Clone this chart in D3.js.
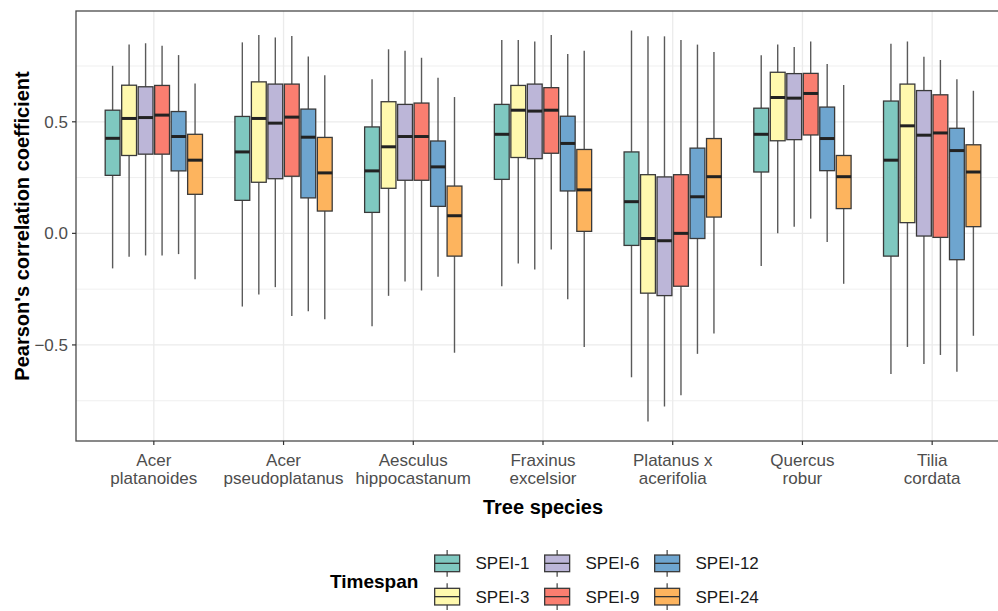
<!DOCTYPE html>
<html>
<head>
<meta charset="utf-8">
<script src="https://cdn.jsdelivr.net/npm/d3@7"></script>
<style>
    body { margin: 0; background: #fff; }
    svg { display: block; font-family: "Liberation Sans", Arial, sans-serif; }
    .tick-label { fill: #4d4d4d; font-size: 17px; }
    .axis-title { fill: #000; font-size: 20px; font-weight: bold; }
    .legend-label { fill: #1a1a1a; font-size: 17px; }
</style>
</head>
<body>
<div id="chart"></div>
<script>
// categories
const species = [
    ["Acer", "platanoides"],
    ["Acer", "pseudoplatanus"],
    ["Aesculus", "hippocastanum"],
    ["Fraxinus", "excelsior"],
    ["Platanus x", "acerifolia"],
    ["Quercus", "robur"],
    ["Tilia", "cordata"]
];
const timespans = ["SPEI-1", "SPEI-3", "SPEI-6", "SPEI-9", "SPEI-12", "SPEI-24"];
const spanColors = ["#7fc8c0", "#fff9ae", "#bcb6d8", "#fa7e70", "#6ea5cf", "#fdb45e"];

// box statistics, one row per species, one value per timespan
const whiskerLow = [
    [-0.157, -0.105, -0.099, -0.099, -0.093, -0.206],
    [-0.328, -0.274, -0.241, -0.370, -0.349, -0.385],
    [-0.416, -0.280, -0.216, -0.256, -0.195, -0.535],
    [-0.237, -0.135, -0.162, -0.072, -0.295, -0.509],
    [-0.645, -0.843, -0.776, -0.726, -0.540, -0.449],
    [-0.146, 0.001, 0.030, 0.066, -0.039, -0.226],
    [-0.630, -0.509, -0.585, -0.545, -0.620, -0.459]
];
const q1 = [
    [0.260, 0.349, 0.355, 0.355, 0.280, 0.175],
    [0.148, 0.229, 0.245, 0.256, 0.159, 0.100],
    [0.094, 0.202, 0.238, 0.238, 0.121, -0.102],
    [0.242, 0.340, 0.335, 0.359, 0.190, 0.009],
    [-0.054, -0.268, -0.279, -0.237, -0.023, 0.073],
    [0.275, 0.415, 0.420, 0.441, 0.281, 0.111],
    [-0.102, 0.048, -0.012, -0.018, -0.118, 0.030]
];
const medians = [
    [0.426, 0.515, 0.519, 0.530, 0.434, 0.328],
    [0.365, 0.515, 0.494, 0.521, 0.431, 0.271],
    [0.280, 0.388, 0.434, 0.434, 0.298, 0.079],
    [0.444, 0.552, 0.548, 0.552, 0.403, 0.195],
    [0.142, -0.023, -0.033, 0.000, 0.164, 0.254],
    [0.444, 0.609, 0.606, 0.627, 0.425, 0.254],
    [0.328, 0.482, 0.440, 0.450, 0.371, 0.275]
];
const q3 = [
    [0.552, 0.664, 0.657, 0.663, 0.546, 0.444],
    [0.524, 0.679, 0.669, 0.669, 0.557, 0.430],
    [0.477, 0.590, 0.578, 0.584, 0.414, 0.212],
    [0.578, 0.663, 0.669, 0.653, 0.525, 0.376],
    [0.365, 0.263, 0.253, 0.263, 0.382, 0.425],
    [0.561, 0.722, 0.716, 0.717, 0.566, 0.349],
    [0.593, 0.669, 0.640, 0.621, 0.471, 0.397]
];
const whiskerHigh = [
    [0.751, 0.846, 0.852, 0.841, 0.799, 0.672],
    [0.856, 0.889, 0.878, 0.885, 0.793, 0.709],
    [0.691, 0.825, 0.819, 0.787, 0.697, 0.611],
    [0.867, 0.867, 0.860, 0.889, 0.804, 0.819],
    [0.909, 0.883, 0.883, 0.867, 0.846, 0.813],
    [0.798, 0.846, 0.835, 0.860, 0.759, 0.665],
    [0.850, 0.860, 0.792, 0.777, 0.691, 0.639]
];
const yTicks = [-0.5, 0, 0.5];
const yMinorTicks = [-0.75, -0.25, 0.25, 0.75];

const config = {
    width: 998,
    height: 611,
    margin: {top: 11, left: 76, bottomY: 441, right: 1010},
    boxStroke: "#3a3a3a",
    whiskerStroke: "#5a5a5a",
    gridColor: "#ebebeb"
};

// flatten into one record per box
const boxes = [];
species.forEach((sp, i) => {
    timespans.forEach((span, j) => {
        boxes.push({
            species: sp.join(" "),
            span: span,
            low: whiskerLow[i][j],
            q1: q1[i][j],
            median: medians[i][j],
            q3: q3[i][j],
            high: whiskerHigh[i][j]
        });
    });
});

const svg = d3.select("#chart").append("svg")
    .attr("width", config.width)
    .attr("height", config.height);

svg.append("rect")
    .attr("width", config.width)
    .attr("height", config.height)
    .attr("fill", "#fff");

// scales (ggplot style: 0.6 step padding on discrete, 5% expansion on continuous)
const xScale = d3.scalePoint()
    .domain(species.map(d => d.join(" ")))
    .range([config.margin.left, config.margin.right])
    .padding(0.6);
const step = xScale.step();

const xInner = d3.scaleBand()
    .domain(timespans)
    .range([-0.375 * step, 0.375 * step])
    .paddingInner(0.1);

const yMin = d3.min(boxes, d => d.low);
const yMax = d3.max(boxes, d => d.high);
const expand = (yMax - yMin) * 0.05;
const yScale = d3.scaleLinear()
    .domain([yMin - expand, yMax + expand])
    .range([config.margin.bottomY, config.margin.top]);

const colorScale = d3.scaleOrdinal().domain(timespans).range(spanColors);

// grid
const grid = svg.append("g");
grid.selectAll(".minor")
    .data(yMinorTicks)
    .join("line")
    .attr("x1", config.margin.left).attr("x2", config.margin.right)
    .attr("y1", d => yScale(d)).attr("y2", d => yScale(d))
    .attr("stroke", config.gridColor).attr("stroke-width", 0.8);
grid.selectAll(".major-y")
    .data(yTicks)
    .join("line")
    .attr("x1", config.margin.left).attr("x2", config.margin.right)
    .attr("y1", d => yScale(d)).attr("y2", d => yScale(d))
    .attr("stroke", config.gridColor).attr("stroke-width", 1.3);
grid.selectAll(".major-x")
    .data(xScale.domain())
    .join("line")
    .attr("x1", d => xScale(d)).attr("x2", d => xScale(d))
    .attr("y1", config.margin.top).attr("y2", config.margin.bottomY)
    .attr("stroke", config.gridColor).attr("stroke-width", 1.3);

// boxes
const boxGroup = svg.append("g");
const cell = boxGroup.selectAll(".box")
    .data(boxes)
    .join("g")
    .attr("class", "box")
    .attr("transform", d => `translate(${xScale(d.species) + xInner(d.span)},0)`);

const bw = xInner.bandwidth();

cell.append("line")
    .attr("x1", bw / 2).attr("x2", bw / 2)
    .attr("y1", d => yScale(d.high)).attr("y2", d => yScale(d.q3))
    .attr("stroke", config.whiskerStroke).attr("stroke-width", 1.4);
cell.append("line")
    .attr("x1", bw / 2).attr("x2", bw / 2)
    .attr("y1", d => yScale(d.q1)).attr("y2", d => yScale(d.low))
    .attr("stroke", config.whiskerStroke).attr("stroke-width", 1.4);
cell.append("rect")
    .attr("x", 0)
    .attr("width", bw)
    .attr("y", d => yScale(d.q3))
    .attr("height", d => yScale(d.q1) - yScale(d.q3))
    .attr("fill", d => colorScale(d.span))
    .attr("stroke", config.boxStroke)
    .attr("stroke-width", 1.3);
cell.append("line")
    .attr("x1", 0).attr("x2", bw)
    .attr("y1", d => yScale(d.median)).attr("y2", d => yScale(d.median))
    .attr("stroke", "#222").attr("stroke-width", 3);

// panel border (right edge lies outside the picture)
svg.append("rect")
    .attr("x", config.margin.left)
    .attr("y", config.margin.top)
    .attr("width", config.margin.right - config.margin.left)
    .attr("height", config.margin.bottomY - config.margin.top)
    .attr("fill", "none")
    .attr("stroke", "#4a4a4a")
    .attr("stroke-width", 1.3);

// y axis
const yAxisG = svg.append("g");
yAxisG.selectAll("line")
    .data(yTicks)
    .join("line")
    .attr("x1", config.margin.left - 4).attr("x2", config.margin.left)
    .attr("y1", d => yScale(d)).attr("y2", d => yScale(d))
    .attr("stroke", "#333").attr("stroke-width", 1.2);
yAxisG.selectAll("text")
    .data(yTicks)
    .join("text")
    .attr("class", "tick-label")
    .attr("x", config.margin.left - 8)
    .attr("y", d => yScale(d))
    .attr("dy", "0.35em")
    .attr("text-anchor", "end")
    .text(d4 => d3.format(".1f")(d4));

// x axis
const xAxisG = svg.append("g");
xAxisG.selectAll("line")
    .data(species)
    .join("line")
    .attr("x1", d => xScale(d.join(" "))).attr("x2", d => xScale(d.join(" ")))
    .attr("y1", config.margin.bottomY).attr("y2", config.margin.bottomY + 4)
    .attr("stroke", "#333").attr("stroke-width", 1.2);
const xLabels = xAxisG.selectAll("text")
    .data(species)
    .join("text")
    .attr("class", "tick-label")
    .attr("text-anchor", "middle");
xLabels.append("tspan")
    .attr("x", d => xScale(d.join(" ")))
    .attr("y", 466)
    .text(d => d[0]);
xLabels.append("tspan")
    .attr("x", d => xScale(d.join(" ")))
    .attr("y", 484)
    .text(d => d[1]);

// axis titles
svg.append("text")
    .attr("class", "axis-title")
    .attr("x", (config.margin.left + config.margin.right) / 2)
    .attr("y", 514)
    .attr("text-anchor", "middle")
    .text("Tree species");

svg.append("text")
    .attr("class", "axis-title")
    .attr("transform", `translate(29,${(config.margin.top + config.margin.bottomY) / 2}) rotate(-90)`)
    .attr("text-anchor", "middle")
    .text("Pearson's correlation coefficient");

// legend: 3 columns x 2 rows, filled column-wise
const legend = svg.append("g");
legend.append("text")
    .attr("class", "axis-title")
    .attr("x", 330)
    .attr("y", 588)
    .style("font-size", "19px")
    .text("Timespan");

const keySize = 33.3;
const legendCol = d3.scaleOrdinal().domain([0, 1, 2]).range([430.5, 540.5, 650.5]);
const legendRow = d3.scaleOrdinal().domain([0, 1]).range([546.7, 580]);

const item = legend.selectAll(".legend-item")
    .data(timespans)
    .join("g")
    .attr("class", "legend-item")
    .attr("transform", (d, i) => `translate(${legendCol(Math.floor(i / 2))},${legendRow(i % 2)})`);

item.append("line")
    .attr("x1", keySize / 2).attr("x2", keySize / 2)
    .attr("y1", keySize * 0.1).attr("y2", keySize * 0.9)
    .attr("stroke", config.whiskerStroke).attr("stroke-width", 1.4);
item.append("rect")
    .attr("x", keySize * 0.125)
    .attr("y", keySize * 0.25)
    .attr("width", keySize * 0.75)
    .attr("height", keySize * 0.5)
    .attr("fill", d => colorScale(d))
    .attr("stroke", config.boxStroke)
    .attr("stroke-width", 1.3);
item.append("line")
    .attr("x1", keySize * 0.125).attr("x2", keySize * 0.875)
    .attr("y1", keySize / 2).attr("y2", keySize / 2)
    .attr("stroke", "#333").attr("stroke-width", 1.3);
item.append("text")
    .attr("class", "legend-label")
    .attr("x", 45)
    .attr("y", keySize / 2)
    .attr("dy", "0.36em")
    .text(d => d);
</script>
</body>
</html>
